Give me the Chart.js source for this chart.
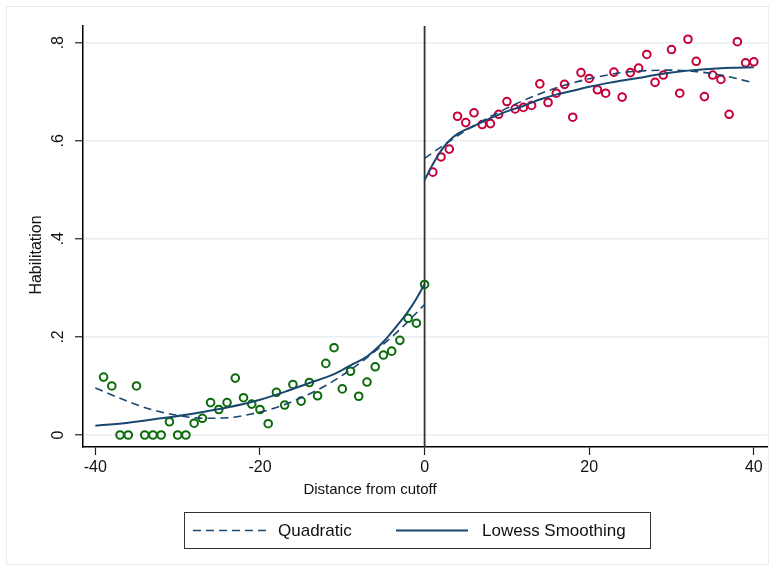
<!DOCTYPE html>
<html>
<head>
<meta charset="utf-8">
<style>
  html, body { margin: 0; padding: 0; background: #fff; }
</style>
<script src="https://cdn.jsdelivr.net/npm/chart.js@4/dist/chart.umd.min.js"></script>
</head>
<body>
<canvas id="rd" width="775" height="571"></canvas>
<script>
// binned means, left and right of the cutoff
const leftX = [-39, -38, -37, -36, -35, -34, -33, -32, -31, -30, -29, -28, -27, -26, -25, -24, -23, -22, -21, -20,
  -19, -18, -17, -16, -15, -14, -13, -12, -11, -10, -9, -8, -7, -6, -5, -4, -3, -2, -1, 0];
const leftY = [0.118, 0.100, 0, 0, 0.100, 0, 0, 0, 0.027, 0, 0, 0.024, 0.034, 0.066, 0.052, 0.066, 0.116, 0.076, 0.063, 0.052,
  0.023, 0.087, 0.061, 0.103, 0.069, 0.107, 0.080, 0.146, 0.178, 0.094, 0.130, 0.079, 0.108, 0.139, 0.163, 0.171, 0.193, 0.238, 0.228, 0.307];
const rightX = [1, 2, 3, 4, 5, 6, 7, 8, 9, 10, 11, 12, 13, 14, 15, 16, 17, 18, 19, 20,
  21, 22, 23, 24, 25, 26, 27, 28, 29, 30, 31, 32, 33, 34, 35, 36, 37, 38, 39, 40];
const rightY = [0.536, 0.567, 0.583, 0.650, 0.637, 0.657, 0.633, 0.635, 0.654, 0.680, 0.665, 0.668, 0.672, 0.716, 0.678, 0.697, 0.715, 0.648, 0.739, 0.727,
  0.704, 0.697, 0.740, 0.689, 0.739, 0.748, 0.776, 0.719, 0.734, 0.786, 0.697, 0.807, 0.762, 0.690, 0.734, 0.725, 0.654, 0.802, 0.759, 0.761];

// fitted curves
const quadLeftX = [-40, -36, -33, -30, -27, -24, -21, -18, -15, -12, -9, -6, -3, 0];
const quadLeftY = [0.096, 0.068, 0.051, 0.040, 0.034, 0.035, 0.043, 0.056, 0.076, 0.101, 0.133, 0.171, 0.215, 0.266];
const quadRightX = [0, 3, 6, 9, 12, 15, 18, 21, 24, 27, 30, 33, 36, 40];
const quadRightY = [0.564, 0.599, 0.631, 0.658, 0.682, 0.702, 0.718, 0.730, 0.739, 0.743, 0.744, 0.741, 0.734, 0.718];
const lowessLeftX = [-40, -36, -32, -28, -24, -20, -17, -14, -11, -9, -7, -5, -3, -2, -1, 0];
const lowessLeftY = [0.019, 0.025, 0.034, 0.044, 0.056, 0.072, 0.088, 0.106, 0.124, 0.142, 0.160, 0.190, 0.230, 0.252, 0.278, 0.308];
const lowessRightX = [0, 1, 2, 3, 4, 6, 8, 10, 12, 14, 16, 18, 20, 22, 24, 26, 28, 30, 32, 34, 36, 38, 40];
const lowessRightY = [0.520, 0.552, 0.580, 0.600, 0.614, 0.630, 0.646, 0.660, 0.671, 0.684, 0.694, 0.702, 0.710, 0.717, 0.723, 0.728, 0.734, 0.739, 0.743, 0.746, 0.748, 0.749, 0.750];

const xTicks = [-40, -20, 0, 20, 40];
const yTicks = [0, 0.2, 0.4, 0.6, 0.8];
const yTickLabels = ["0", ".2", ".4", ".6", ".8"];
const cutoff = 0;

const navy = "#1a476f";
const font = "'Liberation Sans', Arial, sans-serif";
const pts = (xs, ys) => xs.map((x, i) => ({ x, y: ys[i] }));

const curve = (label, data, dashed) => ({
  label, data, showLine: true,
  borderColor: navy, borderWidth: dashed ? 1.6 : 2, borderDash: dashed ? [8, 5] : [],
  pointRadius: 0, cubicInterpolationMode: "monotone"
});
const dots = (label, data, color) => ({
  label, data, showLine: false,
  pointRadius: 3.8, pointBorderWidth: 2, pointBorderColor: color, pointBackgroundColor: "rgba(0,0,0,0)"
});

// vertical line at the cutoff
const cutoffLine = {
  id: "cutoffLine",
  beforeDatasetsDraw(chart) {
    const { ctx, chartArea, scales } = chart;
    const px = scales.x.getPixelForValue(cutoff);
    ctx.save();
    ctx.strokeStyle = "#333";
    ctx.lineWidth = 1.8;
    ctx.beginPath();
    ctx.moveTo(px, chartArea.top);
    ctx.lineTo(px, chartArea.bottom);
    ctx.stroke();
    ctx.restore();
  }
};

// outer frame, axis titles and the boxed legend
const decor = {
  id: "decor",
  afterDraw(chart) {
    const ctx = chart.ctx;
    ctx.save();
    ctx.strokeStyle = "#e6ecef";
    ctx.lineWidth = 1;
    ctx.strokeRect(6.5, 6.5, 762, 558);

    ctx.fillStyle = "#111";
    ctx.font = "15px " + font;
    ctx.textAlign = "center";
    ctx.textBaseline = "middle";
    ctx.fillText("Distance from cutoff", 370, 490);
    ctx.save();
    ctx.translate(37, 255);
    ctx.rotate(-Math.PI / 2);
    ctx.font = "16px " + font;
    ctx.fillText("Habilitation", 0, 0);
    ctx.restore();

    ctx.fillStyle = "#fff";
    ctx.fillRect(184.5, 512.5, 466, 36);
    ctx.strokeStyle = "#333";
    ctx.strokeRect(184.5, 512.5, 466, 36);

    ctx.strokeStyle = navy;
    ctx.lineWidth = 1.6;
    ctx.setLineDash([8, 5]);
    ctx.beginPath(); ctx.moveTo(193, 530.5); ctx.lineTo(267, 530.5); ctx.stroke();
    ctx.setLineDash([]);
    ctx.lineWidth = 2;
    ctx.beginPath(); ctx.moveTo(396, 530.5); ctx.lineTo(468, 530.5); ctx.stroke();

    ctx.fillStyle = "#111";
    ctx.font = "17px " + font;
    ctx.textAlign = "left";
    ctx.fillText("Quadratic", 278, 531);
    ctx.fillText("Lowess Smoothing", 482, 531);
    ctx.restore();
  }
};

new Chart(document.getElementById("rd"), {
  type: "scatter",
  data: {
    datasets: [
      curve("Quadratic", pts(quadLeftX, quadLeftY), true),
      curve("Quadratic", pts(quadRightX, quadRightY), true),
      curve("Lowess Smoothing", pts(lowessLeftX, lowessLeftY), false),
      curve("Lowess Smoothing", pts(lowessRightX, lowessRightY), false),
      dots("Left", pts(leftX, leftY), "#0a6b0a"),
      dots("Right", pts(rightX, rightY), "#c8003a")
    ]
  },
  options: {
    responsive: false,
    animation: false,
    layout: { padding: { left: 0, right: 8, top: 26, bottom: 0 } },
    plugins: { legend: { display: false }, tooltip: { enabled: false } },
    scales: {
      x: {
        type: "linear", min: -41.5, max: 41.6,
        afterBuildTicks: s => { s.ticks = xTicks.map(v => ({ value: v })); },
        afterFit: s => { s.height = 124; },
        grid: { drawOnChartArea: false, tickLength: 8, tickColor: "#222", tickWidth: 1.2 },
        border: { color: "#000", width: 1.5 },
        ticks: { color: "#111", font: { family: font, size: 16 }, padding: 3 }
      },
      y: {
        type: "linear", min: -0.0245, max: 0.834,
        afterBuildTicks: s => { s.ticks = yTicks.map(v => ({ value: v })); },
        afterFit: s => { s.width = 83; },
        grid: { color: "#e8eef1", lineWidth: 1.5, tickLength: 8, tickColor: "#222", tickWidth: 1.2 },
        border: { color: "#000", width: 1.5 },
        ticks: {
          color: "#111", font: { family: font, size: 16 }, padding: 10,
          minRotation: 90, maxRotation: 90, crossAlign: "center",
          callback: (v, i) => yTickLabels[i]
        }
      }
    }
  },
  plugins: [cutoffLine, decor]
});
</script>
</body>
</html>
